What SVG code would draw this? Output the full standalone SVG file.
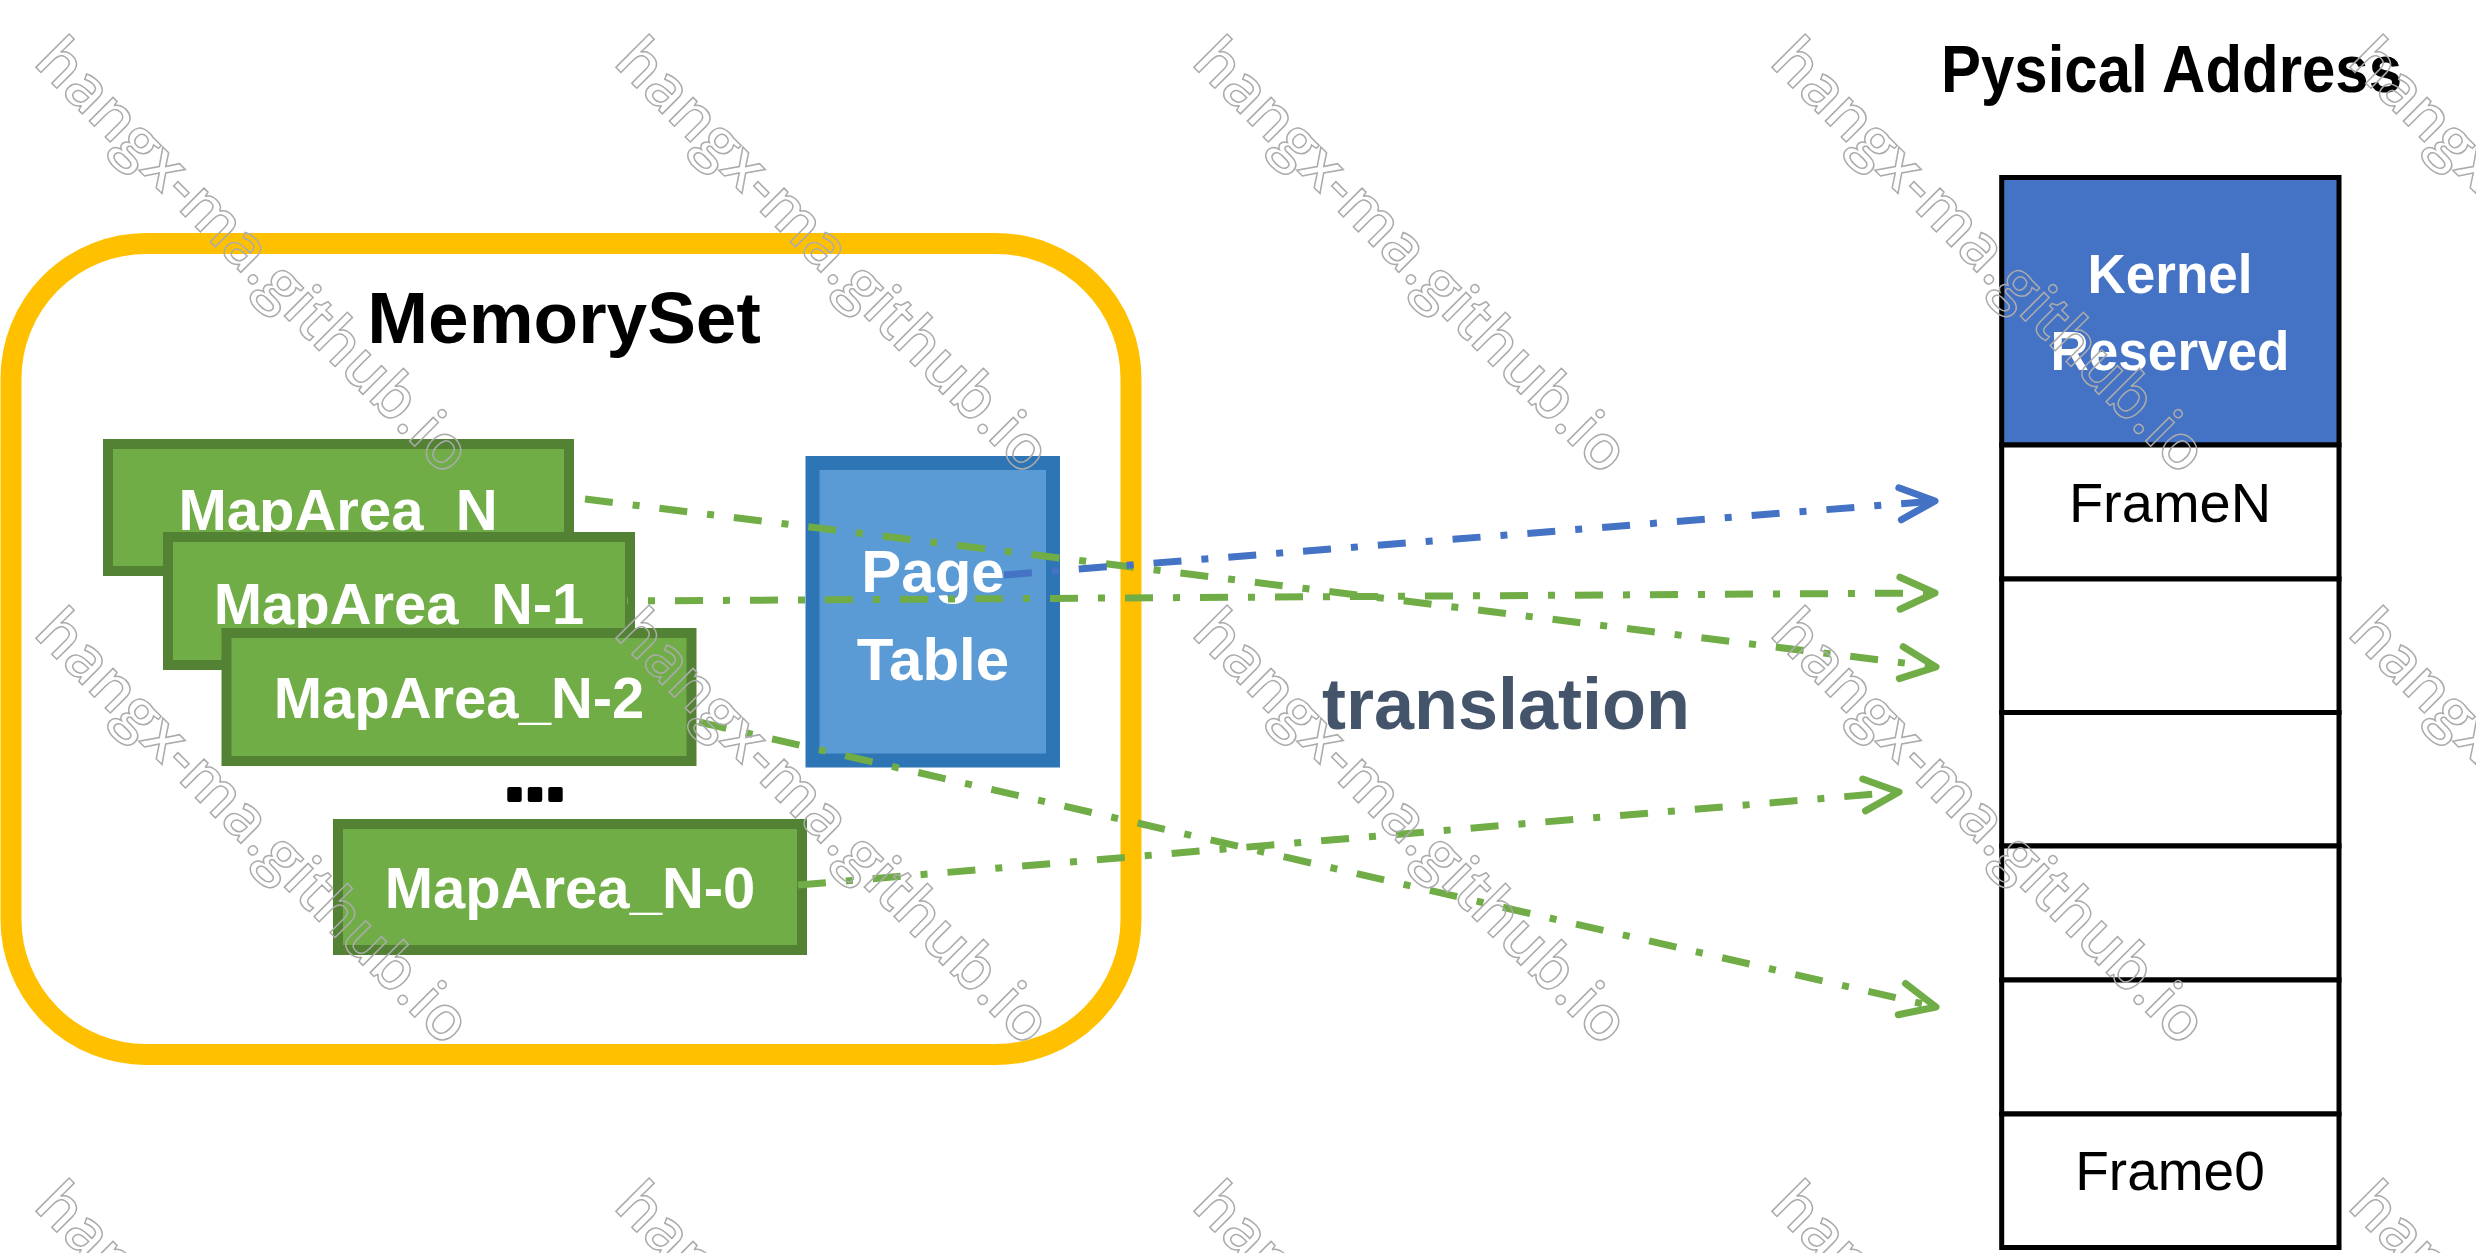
<svg xmlns="http://www.w3.org/2000/svg" width="2476" height="1253" viewBox="0 0 2476 1253">
<style>
  text { font-family: "Liberation Sans", Arial, sans-serif; }
  .b { font-weight: bold; }
  .map rect { fill: #70AD47; stroke: #548235; stroke-width: 10; }
  .map text { fill: #ffffff; font-weight: bold; font-size: 58px; text-anchor: middle; }
  .frame { fill: #ffffff; stroke: #000000; stroke-width: 5; }
  .con { fill: none; stroke-width: 7; stroke-dasharray: 28 20 7 20; }
  .g { stroke: #70AD47; }
  .bl { stroke: #4472C4; }
  .wm { font-family: "Open Sans", "Liberation Sans", sans-serif; font-size: 62px; font-weight: 600; fill: none; stroke: #ABABAB; stroke-width: 1.5; text-anchor: middle; }
</style>
<defs>
  <marker id="ahg" viewBox="-45 -25 55 50" markerWidth="55" markerHeight="50" refX="0" refY="0" orient="auto" markerUnits="userSpaceOnUse">
    <path d="M-35,-16 L0,0 L-35,16" fill="none" stroke="#70AD47" stroke-width="7" stroke-linecap="round" stroke-linejoin="round"/>
  </marker>
  <marker id="ahb" viewBox="-45 -25 55 50" markerWidth="55" markerHeight="50" refX="0" refY="0" orient="auto" markerUnits="userSpaceOnUse">
    <path d="M-35,-16 L0,0 L-35,16" fill="none" stroke="#4472C4" stroke-width="7" stroke-linecap="round" stroke-linejoin="round"/>
  </marker>
</defs>
<rect width="2476" height="1253" fill="#ffffff"/>

<g id="memoryset">
  <rect x="11" y="243.5" width="1120" height="811" rx="135" ry="135" fill="#ffffff" stroke="#FFC000" stroke-width="21"/>
  <text class="b" x="564" y="343" font-size="73" text-anchor="middle" fill="#000000">MemorySet</text>
</g>

<g id="maparea-n" class="map">
  <rect x="108" y="444" width="461" height="127"/>
  <text x="338" y="530">MapArea_N</text>
</g>
<g id="maparea-n-1" class="map">
  <rect x="168" y="537" width="462" height="128"/>
  <text x="399" y="624">MapArea_N-1</text>
</g>
<g id="maparea-n-2" class="map">
  <rect x="226.5" y="633" width="465" height="128"/>
  <text x="459" y="718">MapArea_N-2</text>
</g>
<g id="ellipsis">
  <text class="b" x="535" y="800" font-size="74" text-anchor="middle" fill="#000000" stroke="#000000" stroke-width="4" stroke-linejoin="round">...</text>
</g>
<g id="maparea-n-0" class="map">
  <rect x="338" y="824" width="464" height="126"/>
  <text x="570" y="908">MapArea_N-0</text>
</g>

<g id="pagetable">
  <rect x="812.5" y="463" width="240.5" height="297.5" fill="#5B9BD5" stroke="#2E75B6" stroke-width="14"/>
  <text class="b" x="933" y="592" font-size="60" text-anchor="middle" fill="#ffffff">Page</text>
  <text class="b" x="933" y="680" font-size="60" text-anchor="middle" fill="#ffffff">Table</text>
</g>

<g id="translation-label">
  <text class="b" x="1506" y="729" font-size="72" text-anchor="middle" fill="#44546A">translation</text>
</g>

<g id="physical-title">
  <text class="b" x="2171.5" y="92" font-size="66" text-anchor="middle" fill="#000000" textLength="461" lengthAdjust="spacingAndGlyphs">Pysical Address</text>
</g>

<g id="physical-memory">
  <rect id="kernel-reserved" x="2001.7" y="177.5" width="337.3" height="267.5" fill="#4472C4" stroke="#000000" stroke-width="5"/>
  <text class="b" x="2170" y="293" font-size="55" text-anchor="middle" fill="#ffffff" textLength="165" lengthAdjust="spacingAndGlyphs">Kernel</text>
  <text class="b" x="2170" y="370" font-size="55" text-anchor="middle" fill="#ffffff" textLength="239" lengthAdjust="spacingAndGlyphs">Reserved</text>
  <rect id="frame-n" class="frame" x="2001.7" y="445" width="337.3" height="134"/>
  <text x="2170" y="522" font-size="56" text-anchor="middle" fill="#000000">FrameN</text>
  <rect id="frame-5" class="frame" x="2001.7" y="579" width="337.3" height="133.5"/>
  <rect id="frame-4" class="frame" x="2001.7" y="712.5" width="337.3" height="133.5"/>
  <rect id="frame-3" class="frame" x="2001.7" y="846" width="337.3" height="134"/>
  <rect id="frame-2" class="frame" x="2001.7" y="980" width="337.3" height="134"/>
  <rect id="frame-0" class="frame" x="2001.7" y="1114" width="337.3" height="133.5"/>
  <text x="2170" y="1190" font-size="55" text-anchor="middle" fill="#000000">Frame0</text>
</g>

<g id="connectors">
  <line class="con g" x1="585" y1="499" x2="1936" y2="667" marker-end="url(#ahg)"/>
  <line class="con bl" x1="1004" y1="575" x2="1935" y2="501" marker-end="url(#ahb)"/>
  <line class="con g" x1="627" y1="601" x2="1935" y2="593" stroke-dashoffset="27" marker-end="url(#ahg)"/>
  <line class="con g" x1="699" y1="722" x2="1936" y2="1007" marker-end="url(#ahg)"/>
  <line class="con g" x1="798" y1="885" x2="1899" y2="792" marker-end="url(#ahg)"/>
</g>

<g id="watermarks">
  <text class="wm" transform="translate(250,259) rotate(45)" y="16" textLength="584" lengthAdjust="spacingAndGlyphs">hangx-ma.github.io</text>
  <text class="wm" transform="translate(830,259) rotate(45)" y="16" textLength="584" lengthAdjust="spacingAndGlyphs">hangx-ma.github.io</text>
  <text class="wm" transform="translate(1408,259) rotate(45)" y="16" textLength="584" lengthAdjust="spacingAndGlyphs">hangx-ma.github.io</text>
  <text class="wm" transform="translate(1986,259) rotate(45)" y="16" textLength="584" lengthAdjust="spacingAndGlyphs">hangx-ma.github.io</text>
  <text class="wm" transform="translate(2564,259) rotate(45)" y="16" textLength="584" lengthAdjust="spacingAndGlyphs">hangx-ma.github.io</text>
  <text class="wm" transform="translate(250,830) rotate(45)" y="16" textLength="584" lengthAdjust="spacingAndGlyphs">hangx-ma.github.io</text>
  <text class="wm" transform="translate(830,830) rotate(45)" y="16" textLength="584" lengthAdjust="spacingAndGlyphs">hangx-ma.github.io</text>
  <text class="wm" transform="translate(1408,830) rotate(45)" y="16" textLength="584" lengthAdjust="spacingAndGlyphs">hangx-ma.github.io</text>
  <text class="wm" transform="translate(1986,830) rotate(45)" y="16" textLength="584" lengthAdjust="spacingAndGlyphs">hangx-ma.github.io</text>
  <text class="wm" transform="translate(2564,830) rotate(45)" y="16" textLength="584" lengthAdjust="spacingAndGlyphs">hangx-ma.github.io</text>
  <text class="wm" transform="translate(250,1403) rotate(45)" y="16" textLength="584" lengthAdjust="spacingAndGlyphs">hangx-ma.github.io</text>
  <text class="wm" transform="translate(830,1403) rotate(45)" y="16" textLength="584" lengthAdjust="spacingAndGlyphs">hangx-ma.github.io</text>
  <text class="wm" transform="translate(1408,1403) rotate(45)" y="16" textLength="584" lengthAdjust="spacingAndGlyphs">hangx-ma.github.io</text>
  <text class="wm" transform="translate(1986,1403) rotate(45)" y="16" textLength="584" lengthAdjust="spacingAndGlyphs">hangx-ma.github.io</text>
  <text class="wm" transform="translate(2564,1403) rotate(45)" y="16" textLength="584" lengthAdjust="spacingAndGlyphs">hangx-ma.github.io</text>
</g>
</svg>
